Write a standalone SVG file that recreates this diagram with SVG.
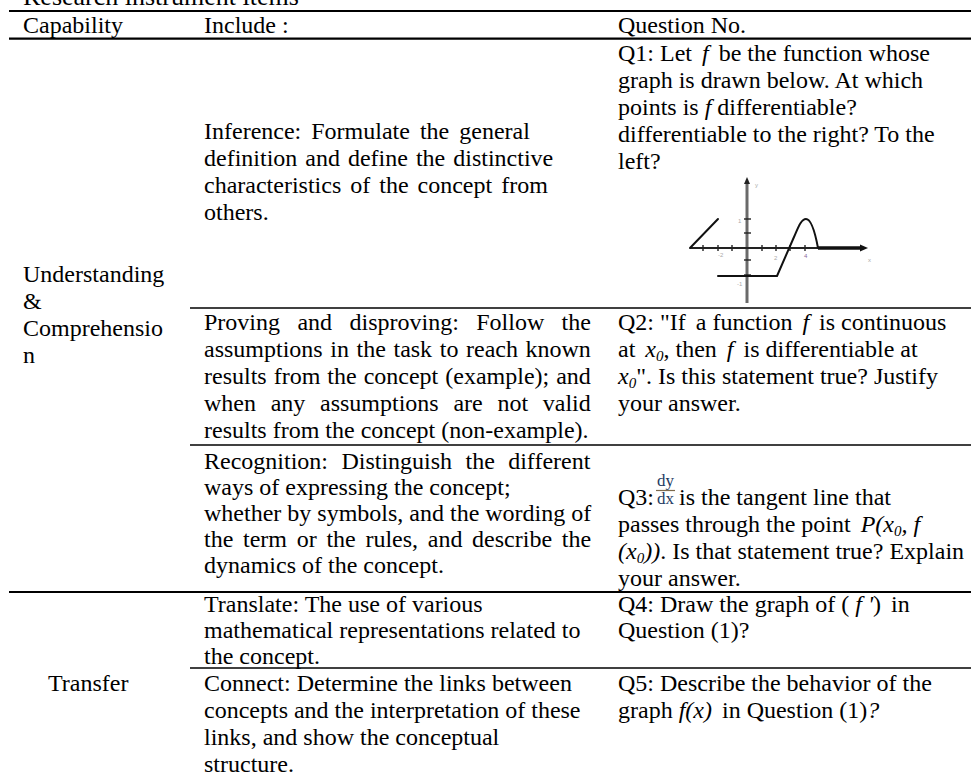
<svg xmlns="http://www.w3.org/2000/svg" width="971" height="781" viewBox="0 0 971 781">
<style>
text{font-family:"Liberation Serif","Times New Roman",serif;font-size:24px;fill:#000}
.i{font-style:italic}
.s{font-size:15px}
.r1{stroke:#000;stroke-width:2.2}
.r2{stroke:#000;stroke-width:1.6}
.g{stroke:#111;stroke-width:2;fill:none;stroke-linecap:round;stroke-linejoin:round}
.tk{stroke:#222;stroke-width:1.4}
.lab{font-family:"Liberation Sans",Arial,sans-serif;font-size:6px;fill:#aaa}
.fr{font-size:17px;fill:#1f3b63}
</style>
<rect width="971" height="781" fill="#fff"/>
<text x="23" y="4.5" style="font-size:26px">Research instrument items</text>

<g id="rules">
<line class="r1" x1="9" y1="11" x2="971" y2="11"/>
<line class="r1" x1="9" y1="38.7" x2="971" y2="38.7"/>
<line class="r2" x1="190" y1="308" x2="971" y2="308"/>
<line class="r2" x1="190" y1="445" x2="971" y2="445"/>
<line class="r1" x1="9" y1="592" x2="971" y2="592"/>
<line class="r2" x1="190" y1="668" x2="971" y2="668"/>
</g>

<g id="header">
<text x="23" y="33">Capability</text>
<text x="204" y="33">Include :</text>
<text x="618" y="33">Question No.</text>
</g>

<g id="cap-understanding">
<text x="23" y="282">Understanding</text>
<text x="23" y="309">&amp;</text>
<text x="23" y="336">Comprehensio</text>
<text x="23" y="363">n</text>
</g>

<g id="inc-inference">
<text x="204" y="139" word-spacing="4">Inference: Formulate the general</text>
<text x="204" y="166" word-spacing="2">definition and define the distinctive</text>
<text x="204" y="193" word-spacing="3">characteristics of the concept from</text>
<text x="204" y="220">others.</text>
</g>

<g id="q1">
<text x="618" y="61">Q1: Let <tspan class="i" dx="4">f</tspan><tspan dx="4"> be the function whose</tspan></text>
<text x="618" y="88">graph is drawn below. At which</text>
<text x="618" y="115">points is <tspan class="i">f</tspan> differentiable?</text>
<text x="618" y="142">differentiable to the right? To the</text>
<text x="618" y="169">left?</text>
<g id="q1-graph">
<line x1="747" y1="183" x2="747" y2="303" stroke="#6a6a6a" stroke-width="3"/>
<polygon points="747,177 744,184 750,184" fill="#222"/>
<line x1="690" y1="248" x2="862" y2="248" stroke="#222" stroke-width="1.8"/>
<line x1="818" y1="248" x2="862" y2="248" stroke="#111" stroke-width="3.5"/>
<polygon points="868,248 860,244.5 860,251.5" fill="#111"/>
<g class="tk">
<line x1="703" y1="245" x2="703" y2="251"/><line x1="718" y1="245" x2="718" y2="251"/>
<line x1="732" y1="245" x2="732" y2="251"/><line x1="762" y1="245" x2="762" y2="251"/>
<line x1="776" y1="245" x2="776" y2="251"/><line x1="790" y1="245" x2="790" y2="251"/>
<line x1="805" y1="245" x2="805" y2="251"/>
<line x1="744" y1="219" x2="751" y2="219"/><line x1="744" y1="233" x2="751" y2="233"/>
<line x1="744" y1="260" x2="751" y2="260"/><line x1="744" y1="275" x2="751" y2="275"/>
</g>
<path class="g" d="M690,248 L718,219"/>
<path class="g" d="M718,276 L777,276 L794,237 C798,228 801,219 806,219 C811,219 815,232 818,248"/>
<text class="lab" x="755" y="187">y</text>
<text class="lab" x="738" y="223">1</text>
<text class="lab" x="737" y="286">-1</text>
<text class="lab" x="718" y="257">-2</text>
<text class="lab" x="774" y="260">2</text>
<text class="lab" x="804" y="258" style="fill:#8a6a9a">4</text>
<text class="lab" x="868" y="262">x</text>
</g>
</g>

<g id="inc-proving">
<text x="204" y="330" word-spacing="11.4">Proving and disproving: Follow the</text>
<text x="204" y="357" word-spacing="1.6">assumptions in the task to reach known</text>
<text x="204" y="384" word-spacing="1">results from the concept (example); and</text>
<text x="204" y="411" word-spacing="8.7">when any assumptions are not valid</text>
<text x="204" y="438">results from the concept (non-example).</text>
</g>

<g id="q2">
<text x="618" y="330">Q2: "If <tspan dx="4">a function </tspan><tspan class="i" dx="4">f</tspan><tspan dx="4"> is continuous</tspan></text>
<text x="618" y="357">at <tspan class="i" dx="4">x</tspan><tspan class="i s" dy="4">0</tspan><tspan dy="-4">, then </tspan><tspan class="i" dx="4">f</tspan><tspan dx="4"> is differentiable at</tspan></text>
<text x="618" y="384"><tspan class="i">x</tspan><tspan class="i s" dy="4">0</tspan><tspan dy="-4">". Is this statement true? Justify</tspan></text>
<text x="618" y="411">your answer.</text>
</g>

<g id="inc-recognition">
<text x="204" y="469" word-spacing="7.4">Recognition: Distinguish the different</text>
<text x="204" y="495">ways of expressing the concept;</text>
<text x="204" y="521">whether by symbols, and the wording of</text>
<text x="204" y="547" word-spacing="3.7">the term or the rules, and describe the</text>
<text x="204" y="573">dynamics of the concept.</text>
</g>

<g id="q3">
<text x="618" y="505">Q3:</text>
<text class="fr" x="665.5" y="486" text-anchor="middle">dy</text>
<line x1="656" y1="490.5" x2="675" y2="490.5" stroke="#7d6a4c" stroke-width="1.2"/>
<text class="fr" x="665.5" y="503.5" text-anchor="middle">dx</text>
<text x="679" y="505">is the tangent line that</text>
<text x="618" y="532">passes through the point <tspan class="i" dx="4">P(x</tspan><tspan class="i s" dy="4">0</tspan><tspan class="i" dy="-4">, f</tspan></text>
<text x="618" y="559"><tspan class="i">(x</tspan><tspan class="i s" dy="4">0</tspan><tspan class="i" dy="-4">))</tspan>. Is that statement true? Explain</text>
<text x="618" y="586">your answer.</text>
</g>

<g id="cap-transfer">
<text x="48" y="691">Transfer</text>
</g>

<g id="inc-translate">
<text x="204" y="612">Translate: The use of various</text>
<text x="204" y="638">mathematical representations related to</text>
<text x="204" y="664">the concept.</text>
</g>

<g id="q4">
<text x="618" y="612">Q4: Draw the graph of ( <tspan class="i">f '</tspan>) <tspan dx="4">in</tspan></text>
<text x="618" y="638">Question (1)?</text>
</g>

<g id="inc-connect">
<text x="204" y="691">Connect: Determine the links between</text>
<text x="204" y="718">concepts and the interpretation of these</text>
<text x="204" y="745">links, and show the conceptual</text>
<text x="204" y="772">structure.</text>
</g>

<g id="q5">
<text x="618" y="691">Q5: Describe the behavior of the</text>
<text x="618" y="718">graph <tspan class="i">f(x)</tspan> <tspan dx="4">in Question (1)</tspan><tspan class="i">?</tspan></text>
</g>
</svg>
